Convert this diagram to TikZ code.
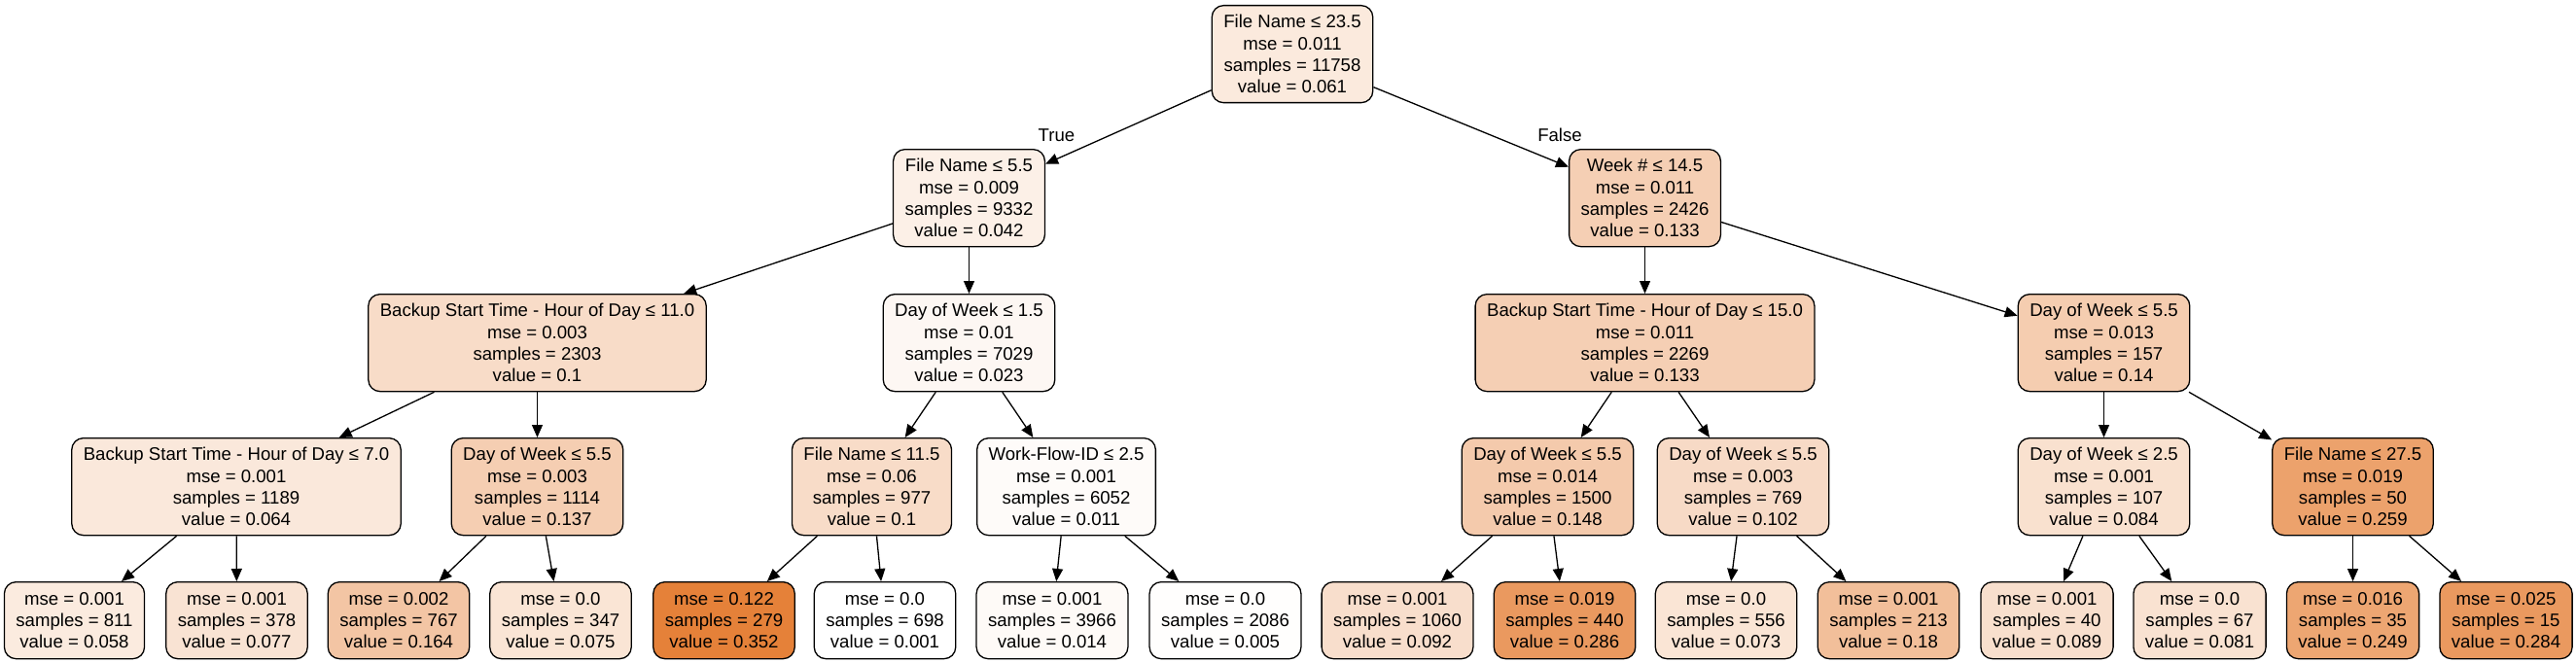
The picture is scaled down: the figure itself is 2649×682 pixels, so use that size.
\documentclass[tikz,border=0pt]{standalone}
\usepackage{fontspec}
\setmainfont{Liberation Sans}
\usetikzlibrary{arrows.meta}
\definecolor{orng}{RGB}{229,129,57}
\newcommand{\tfont}{\fontsize{18.6}{22.3}\selectfont}
\tikzset{
  tn/.style={draw=black, line width=1.3pt, rounded corners=12pt, inner xsep=12pt, inner ysep=0pt,
    align=center, font=\tfont, anchor=north, minimum height=100pt},
  lf/.style={tn, minimum height=79pt},
  edge/.style={-{Triangle[length=13pt,width=11pt]}, line width=1.3pt},
  elabel/.style={font=\tfont, inner sep=0pt}
}
\begin{document}
\begin{tikzpicture}[x=1pt,y=-1pt]
\useasboundingbox (0,0) rectangle (2649,682);
% level 0
\node[tn, fill=orng!17] (r) at (1329,5) {File Name ≤ 23.5\\mse = 0.011\\samples = 11758\\value = 0.061};
% level 1
\node[tn, fill=orng!12] (a) at (996.5,153) {File Name ≤ 5.5\\mse = 0.009\\samples = 9332\\value = 0.042};
\node[tn, fill=orng!38] (b) at (1691.5,153) {Week \# ≤ 14.5\\mse = 0.011\\samples = 2426\\value = 0.133};
% level 2
\node[tn, fill=orng!28] (c) at (552.5,302) {Backup Start Time - Hour of Day ≤ 11.0\\mse = 0.003\\samples = 2303\\value = 0.1};
\node[tn, fill=orng!6] (d) at (996.5,302) {Day of Week ≤ 1.5\\mse = 0.01\\samples = 7029\\value = 0.023};
\node[tn, fill=orng!38] (e) at (1691.5,302) {Backup Start Time - Hour of Day ≤ 15.0\\mse = 0.011\\samples = 2269\\value = 0.133};
\node[tn, fill=orng!40] (f) at (2163.5,302) {Day of Week ≤ 5.5\\mse = 0.013\\samples = 157\\value = 0.14};
% level 3
\node[tn, fill=orng!18] (g) at (243,450) {Backup Start Time - Hour of Day ≤ 7.0\\mse = 0.001\\samples = 1189\\value = 0.064};
\node[tn, fill=orng!39] (h) at (552.5,450) {Day of Week ≤ 5.5\\mse = 0.003\\samples = 1114\\value = 0.137};
\node[tn, fill=orng!28] (i) at (896.5,450) {File Name ≤ 11.5\\mse = 0.06\\samples = 977\\value = 0.1};
\node[tn, fill=orng!3] (j) at (1096.5,450) {Work-Flow-ID ≤ 2.5\\mse = 0.001\\samples = 6052\\value = 0.011};
\node[tn, fill=orng!42] (k) at (1591.5,450) {Day of Week ≤ 5.5\\mse = 0.014\\samples = 1500\\value = 0.148};
\node[tn, fill=orng!29] (l) at (1792.5,450) {Day of Week ≤ 5.5\\mse = 0.003\\samples = 769\\value = 0.102};
\node[tn, fill=orng!24] (m) at (2163.5,450) {Day of Week ≤ 2.5\\mse = 0.001\\samples = 107\\value = 0.084};
\node[tn, fill=orng!74] (n) at (2419.5,450) {File Name ≤ 27.5\\mse = 0.019\\samples = 50\\value = 0.259};
% leaves
\node[lf, fill=orng!16] (l1) at (76.5,598) {mse = 0.001\\samples = 811\\value = 0.058};
\node[lf, fill=orng!22] (l2) at (243.5,598) {mse = 0.001\\samples = 378\\value = 0.077};
\node[lf, fill=orng!46] (l3) at (410,598) {mse = 0.002\\samples = 767\\value = 0.164};
\node[lf, fill=orng!21] (l4) at (576.5,598) {mse = 0.0\\samples = 347\\value = 0.075};
\node[lf, fill=orng] (l5) at (744.5,598) {mse = 0.122\\samples = 279\\value = 0.352};
\node[lf, fill=white] (l6) at (910,598) {mse = 0.0\\samples = 698\\value = 0.001};
\node[lf, fill=orng!4] (l7) at (1082,598) {mse = 0.001\\samples = 3966\\value = 0.014};
\node[lf, fill=orng!1] (l8) at (1260,598) {mse = 0.0\\samples = 2086\\value = 0.005};
\node[lf, fill=orng!26] (l9) at (1437,598) {mse = 0.001\\samples = 1060\\value = 0.092};
\node[lf, fill=orng!81] (l10) at (1609,598) {mse = 0.019\\samples = 440\\value = 0.286};
\node[lf, fill=orng!21] (l11) at (1775,598) {mse = 0.0\\samples = 556\\value = 0.073};
\node[lf, fill=orng!51] (l12) at (1942,598) {mse = 0.001\\samples = 213\\value = 0.18};
\node[lf, fill=orng!25] (l13) at (2105,598) {mse = 0.001\\samples = 40\\value = 0.089};
\node[lf, fill=orng!23] (l14) at (2262,598) {mse = 0.0\\samples = 67\\value = 0.081};
\node[lf, fill=orng!71] (l15) at (2419.5,598) {mse = 0.016\\samples = 35\\value = 0.249};
\node[lf, fill=orng!81] (l16) at (2577,598) {mse = 0.025\\samples = 15\\value = 0.284};
% edges
\draw[edge] (r) -- (a);
\draw[edge] (r) -- (b);
\draw[edge] (a) -- (c);
\draw[edge] (a) -- (d);
\draw[edge] (b) -- (e);
\draw[edge] (b) -- (f);
\draw[edge] (c) -- (g);
\draw[edge] (c) -- (h);
\draw[edge] (d) -- (i);
\draw[edge] (d) -- (j);
\draw[edge] (e) -- (k);
\draw[edge] (e) -- (l);
\draw[edge] (f) -- (m);
\draw[edge] (f) -- (n);
\draw[edge] (g) -- (l1);
\draw[edge] (g) -- (l2);
\draw[edge] (h) -- (l3);
\draw[edge] (h) -- (l4);
\draw[edge] (i) -- (l5);
\draw[edge] (i) -- (l6);
\draw[edge] (j) -- (l7);
\draw[edge] (j) -- (l8);
\draw[edge] (k) -- (l9);
\draw[edge] (k) -- (l10);
\draw[edge] (l) -- (l11);
\draw[edge] (l) -- (l12);
\draw[edge] (m) -- (l13);
\draw[edge] (m) -- (l14);
\draw[edge] (n) -- (l15);
\draw[edge] (n) -- (l16);
% edge labels
\node[elabel] (tlab) at (1086.5,139) {True};
\node[elabel] (flab) at (1604,139) {False};
\end{tikzpicture}
\end{document}
